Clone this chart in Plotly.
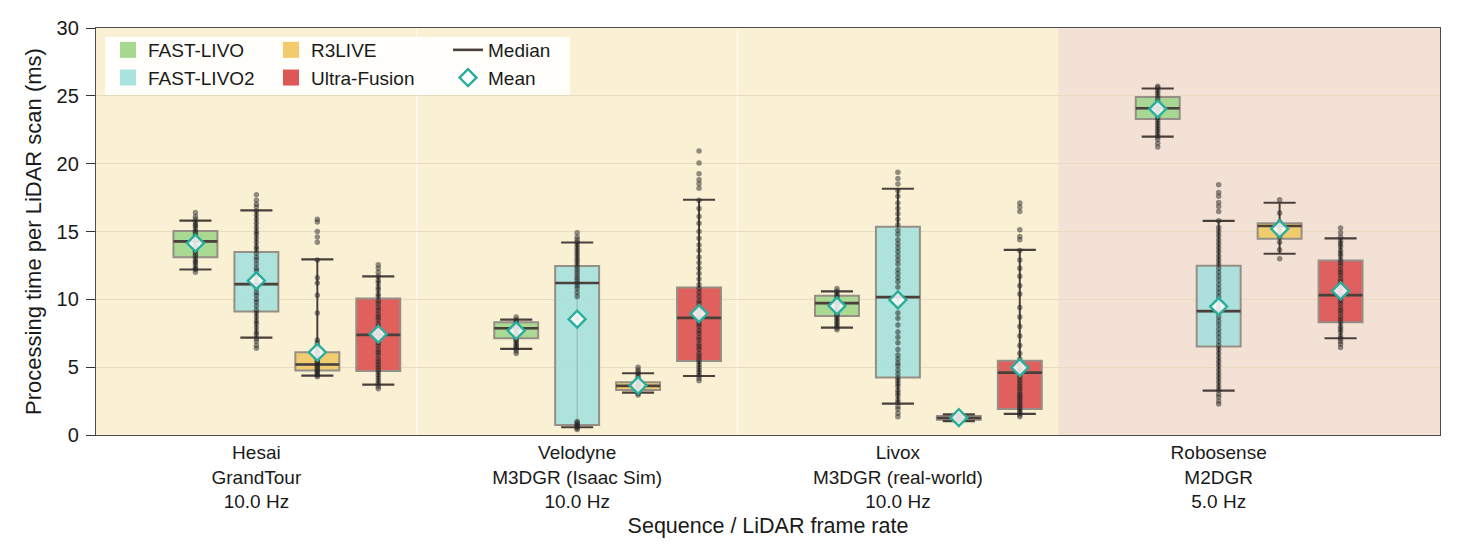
import plotly.graph_objects as go

# ---------------- data ----------------
SENSORS = ["Hesai", "Velodyne", "Livox", "Robosense"]
DATASETS = ["GrandTour", "M3DGR (Isaac Sim)", "M3DGR (real-world)", "M2DGR"]
RATES_HZ = [10.0, 10.0, 10.0, 5.0]
METHODS = ["FAST-LIVO", "FAST-LIVO2", "R3LIVE", "Ultra-Fusion"]

# rows = methods, columns = sequences (Hesai, Velodyne, Livox, Robosense)
Q1 = [[13.1, 7.13, 8.78, 23.3],
      [9.1, 0.74, 4.23, 6.52],
      [4.75, 3.32, 1.13, 14.46],
      [4.72, 5.46, 1.92, 8.32]]
MEDIAN = [[14.27, 7.87, 9.72, 24.08],
          [11.12, 11.2, 10.16, 9.13],
          [5.2, 3.62, 1.25, 15.4],
          [7.38, 8.63, 4.6, 10.31]]
Q3 = [[15.03, 8.32, 10.26, 24.92],
      [13.48, 12.45, 15.35, 12.47],
      [6.1, 3.89, 1.4, 15.6],
      [10.06, 10.87, 5.48, 12.86]]
WHISK_LO = [[12.2, 6.35, 7.92, 21.99],
            [7.18, 0.57, 2.31, 3.27],
            [4.38, 3.12, 1.02, 13.36],
            [3.72, 4.35, 1.55, 7.13]]
WHISK_HI = [[15.8, 8.51, 10.58, 25.54],
            [16.55, 14.19, 18.15, 15.79],
            [12.94, 4.55, 1.52, 17.12],
            [11.69, 17.34, 13.65, 14.49]]
MEAN = [[14.15, 7.7, 9.52, 24.04],
        [11.37, 8.54, 9.96, 9.47],
        [6.1, 3.66, 1.28, 15.2],
        [7.43, 8.95, 4.97, 10.63]]

# per-scan samples
HESAI_FAST_LIVO = [12.0, 12.2, 12.3, 12.5, 12.7, 12.8, 13.0, 13.2, 13.3, 13.5, 13.6, 13.8, 13.9, 14.0,
                   14.2, 14.3, 14.4, 14.6, 14.7, 14.9, 15.0, 15.2, 15.4, 15.5, 15.7, 15.9, 16.1, 16.4]
HESAI_FAST_LIVO2 = [6.4, 6.6, 6.9, 7.1, 7.4, 7.6, 7.9, 8.2, 8.4, 8.7, 9.0, 9.2, 9.5, 9.8, 10.0, 10.3,
                    10.5, 10.8, 11.0, 11.3, 11.5, 11.8, 12.1, 12.3, 12.6, 12.9, 13.1, 13.4, 13.7, 13.9,
                    14.2, 14.5, 14.8, 15.0, 15.3, 15.6, 15.9, 16.2, 16.5, 16.8, 17.0, 17.3, 17.7]
HESAI_R3LIVE = [4.3, 4.4, 4.5, 4.6, 4.7, 4.8, 4.9, 5.0, 5.1, 5.2, 5.3, 5.4, 5.5, 5.6, 5.7, 5.9, 6.0,
                6.2, 6.4, 6.6, 6.8, 7.0, 9.0, 10.3, 11.2, 11.6, 12.9, 14.2, 14.6, 15.0, 15.7, 15.9]
HESAI_ULTRA = [3.4, 3.6, 3.8, 4.0, 4.2, 4.4, 4.6, 4.8, 5.0, 5.2, 5.4, 5.6, 5.9, 6.1, 6.3, 6.6, 6.8,
               7.0, 7.3, 7.5, 7.7, 8.0, 8.2, 8.5, 8.7, 8.9, 9.2, 9.4, 9.7, 9.9, 10.2, 10.4, 10.7,
               10.9, 11.2, 11.4, 11.7, 12.0, 12.3, 12.55]

VELO_FAST_LIVO = [6.0, 6.2, 6.35, 6.5, 6.6, 6.75, 6.9, 7.0, 7.1, 7.25, 7.4, 7.5, 7.6, 7.75, 7.9, 8.0,
                  8.1, 8.2, 8.35, 8.5, 8.7]
VELO_FAST_LIVO2 = [0.4, 0.5, 0.6, 0.7, 0.8, 0.9, 1.0, 8.6, 10.2, 10.5, 10.8, 11.0, 11.2, 11.4, 11.6,
                   11.8, 12.0, 12.2, 12.4, 12.6, 12.8, 13.0, 13.2, 13.4, 13.6, 13.8, 14.0, 14.2,
                   14.4, 14.6, 14.9]
VELO_R3LIVE = [2.95, 3.05, 3.15, 3.25, 3.35, 3.45, 3.55, 3.65, 3.75, 3.85, 3.95, 4.05, 4.2, 4.35,
               4.5, 4.65, 4.8, 5.0]
VELO_ULTRA = [4.0, 4.2, 4.4, 4.6, 4.8, 5.0, 5.2, 5.4, 5.6, 5.8, 6.0, 6.3, 6.5, 6.7, 7.0, 7.2, 7.5,
              7.7, 8.0, 8.2, 8.4, 8.7, 8.9, 9.2, 9.4, 9.7, 9.9, 10.2, 10.5, 10.8, 11.1, 11.5, 11.9,
              12.3, 12.7, 13.1, 13.6, 14.0, 14.5, 15.0, 15.6, 16.1, 16.7, 17.3, 18.18, 18.52,
              18.82, 19.26, 20.05, 20.94]

LIVOX_FAST_LIVO = [7.75, 7.9, 8.05, 8.2, 8.35, 8.5, 8.65, 8.8, 8.95, 9.1, 9.25, 9.4, 9.55, 9.7, 9.85,
                   10.0, 10.15, 10.3, 10.45, 10.6, 10.8]
LIVOX_FAST_LIVO2 = [1.35, 1.6, 1.9, 2.1, 2.4, 2.6, 2.9, 3.1, 3.3, 3.6, 3.8, 4.0, 4.2, 4.5, 4.8, 5.1,
                    5.3, 5.6, 5.9, 6.3, 6.8, 7.2, 7.6, 8.1, 8.6, 9.0, 9.5, 10.0, 10.4, 10.9, 11.3,
                    11.6, 11.9, 12.2, 12.6, 12.9, 13.2, 13.5, 13.8, 14.1, 14.4, 14.8, 15.1, 15.5,
                    15.9, 16.3, 16.7, 17.1, 17.6, 18.0, 18.5, 18.9, 19.36]
LIVOX_R3LIVE = [1.05, 1.1, 1.15, 1.2, 1.25, 1.3, 1.35, 1.4, 1.45, 1.5]
LIVOX_ULTRA = [1.35, 1.5, 1.6, 1.75, 1.9, 2.0, 2.15, 2.3, 2.45, 2.6, 2.75, 2.9, 3.0, 3.2, 3.4, 3.6,
               3.8, 4.0, 4.2, 4.4, 4.6, 4.8, 5.0, 5.3, 5.6, 6.0, 6.6, 7.3, 8.0, 8.7, 9.4, 10.4,
               11.0, 11.7, 12.3, 12.9, 13.6, 14.39, 14.64, 15.13, 16.48, 16.8, 17.1]

ROBO_FAST_LIVO = [21.23, 21.5, 21.8, 22.0, 22.2, 22.4, 22.6, 22.8, 23.0, 23.2, 23.4, 23.6, 23.8, 24.0,
                  24.2, 24.4, 24.6, 24.8, 25.0, 25.2, 25.4, 25.6, 25.7]
ROBO_FAST_LIVO2 = [2.29, 2.5, 2.8, 3.0, 3.3, 3.6, 3.9, 4.2, 4.5, 4.8, 5.1, 5.4, 5.7, 6.0, 6.3, 6.6,
                   6.9, 7.2, 7.5, 7.8, 8.1, 8.4, 8.7, 9.0, 9.3, 9.6, 9.9, 10.2, 10.5, 10.8, 11.1,
                   11.4, 11.7, 12.0, 12.3, 12.6, 12.9, 13.2, 13.5, 13.8, 14.1, 14.4, 14.7, 15.0,
                   15.3, 15.8, 16.48, 16.85, 17.14, 17.59, 17.88, 18.45]
ROBO_R3LIVE = [12.99, 13.65, 14.2, 14.6, 14.8, 15.0, 15.2, 15.35, 15.5, 15.7, 16.36, 17.34]
ROBO_ULTRA = [6.45, 6.7, 6.9, 7.1, 7.3, 7.6, 7.8, 8.0, 8.3, 8.5, 8.7, 9.0, 9.2, 9.4, 9.7, 9.9, 10.1,
              10.4, 10.6, 10.8, 11.1, 11.3, 11.5, 11.8, 12.0, 12.2, 12.5, 12.7, 12.9, 13.2, 13.4,
              13.6, 13.9, 14.1, 14.3, 14.6, 14.9, 15.25]

SAMPLES = [
    [HESAI_FAST_LIVO, VELO_FAST_LIVO, LIVOX_FAST_LIVO, ROBO_FAST_LIVO],
    [HESAI_FAST_LIVO2, VELO_FAST_LIVO2, LIVOX_FAST_LIVO2, ROBO_FAST_LIVO2],
    [HESAI_R3LIVE, VELO_R3LIVE, LIVOX_R3LIVE, ROBO_R3LIVE],
    [HESAI_ULTRA, VELO_ULTRA, LIVOX_ULTRA, ROBO_ULTRA],
]

# ---------------- style ----------------
FONT = "Liberation Sans, Arial, sans-serif"
FILLS = ["rgba(160,214,140,0.9)", "rgba(165,224,222,0.9)", "rgba(240,202,105,0.95)", "rgba(221,84,84,0.92)"]
PATCH = ["#a6d98f", "#a9e3e0", "#f1cb6c", "#de5757"]
BOX_EDGE = "#958f86"
DARK = "#4a403b"
TEAL = "#2aae9c"
OFFSETS = [-0.19, 0.0, 0.19, 0.38]
BOX_W = 0.137
CAP_W = 0.10
X_RANGE = [-0.5, 3.69]

n_groups = len(SENSORS)
ticktext = [f"{s}<br>{d}<br>{r:.1f} Hz" for s, d, r in zip(SENSORS, DATASETS, RATES_HZ)]

fig = go.Figure()

# boxes
for m, name in enumerate(METHODS):
    xs = [g + OFFSETS[m] for g in range(n_groups)]
    fig.add_trace(go.Box(
        x=xs, q1=Q1[m], median=MEDIAN[m], q3=Q3[m],
        lowerfence=Q1[m], upperfence=Q3[m],
        width=BOX_W, whiskerwidth=0, boxpoints=False,
        fillcolor=FILLS[m], line=dict(color=BOX_EDGE, width=2),
        name=name, showlegend=False, hoverinfo="skip",
    ))

# whiskers, caps, medians, faint inner line
wx, wy, cx, cy, mx, my, ix, iy = [], [], [], [], [], [], [], []
for m in range(len(METHODS)):
    for g in range(n_groups):
        p = g + OFFSETS[m]
        wx += [p, p, None, p, p, None]
        wy += [WHISK_LO[m][g], Q1[m][g], None, Q3[m][g], WHISK_HI[m][g], None]
        cx += [p - CAP_W / 2, p + CAP_W / 2, None, p - CAP_W / 2, p + CAP_W / 2, None]
        cy += [WHISK_LO[m][g], WHISK_LO[m][g], None, WHISK_HI[m][g], WHISK_HI[m][g], None]
        mx += [p - BOX_W / 2, p + BOX_W / 2, None]
        my += [MEDIAN[m][g], MEDIAN[m][g], None]
        ix += [p, p, None]
        iy += [Q1[m][g], Q3[m][g], None]

fig.add_trace(go.Scatter(x=ix, y=iy, mode="lines", line=dict(color="rgba(74,64,59,0.22)", width=1.2),
                         showlegend=False, hoverinfo="skip"))
fig.add_trace(go.Scatter(x=wx, y=wy, mode="lines", line=dict(color=DARK, width=2),
                         showlegend=False, hoverinfo="skip"))
fig.add_trace(go.Scatter(x=cx, y=cy, mode="lines", line=dict(color=DARK, width=2.2),
                         showlegend=False, hoverinfo="skip"))
fig.add_trace(go.Scatter(x=mx, y=my, mode="lines", line=dict(color=DARK, width=2.6),
                         name="Median", legend="legend3", hoverinfo="skip"))

# samples
px, py = [], []
for m in range(len(METHODS)):
    for g in range(n_groups):
        vals = SAMPLES[m][g]
        px += [g + OFFSETS[m]] * len(vals)
        py += vals
fig.add_trace(go.Scatter(x=px, y=py, mode="markers",
                         marker=dict(color="rgba(38,38,38,0.5)", size=5.5, line=dict(width=0)),
                         showlegend=False, hoverinfo="skip"))

# means
mnx, mny = [], []
for m in range(len(METHODS)):
    for g in range(n_groups):
        mnx.append(g + OFFSETS[m])
        mny.append(MEAN[m][g])
fig.add_trace(go.Scatter(x=mnx, y=mny, mode="markers", name="Mean", legend="legend3",
                         marker=dict(symbol="diamond", size=13, color="rgba(255,255,255,0.85)",
                                     line=dict(color=TEAL, width=2.4)),
                         hoverinfo="skip"))

# legend patches for the methods (filled rectangles, no data)
for m, name in enumerate(METHODS):
    fig.add_trace(go.Scatter(x=[None], y=[None], mode="markers", name=name,
                             legend="legend" if m < 2 else "legend2",
                             marker=dict(symbol="square", size=16, color=PATCH[m], line=dict(width=0))))

# background regions and separators
shapes = [
    dict(type="rect", xref="x", yref="paper", x0=X_RANGE[0], x1=2.5, y0=0, y1=1,
         fillcolor="#faf0d4", line=dict(width=0), layer="below"),
    dict(type="rect", xref="x", yref="paper", x0=2.5, x1=X_RANGE[1], y0=0, y1=1,
         fillcolor="#f3e1d5", line=dict(width=0), layer="below"),
]
for s in [0.5, 1.5]:
    shapes.append(dict(type="line", xref="x", yref="paper", x0=s, x1=s, y0=0, y1=1,
                       line=dict(color="#fffaf0", width=1.5), layer="below"))
# legend background
PW, PH, L, T = 1344.0, 407.0, 96.0, 28.0
def fx(px_):
    return (px_ - L) / PW
def fy(py_):
    return (T + PH - py_) / PH
shapes.append(dict(type="rect", xref="paper", yref="paper", x0=fx(105), x1=fx(570), y0=fy(95), y1=fy(37),
                   fillcolor="rgba(255,255,255,0.9)", line=dict(width=0), layer="above"))

leg_common = dict(xanchor="left", yanchor="top", bgcolor="rgba(0,0,0,0)", borderwidth=0,
                  font=dict(family=FONT, size=19, color="#1a1a1a"), orientation="v",
                  tracegroupgap=0, itemwidth=30)

fig.update_layout(
    width=1461, height=558,
    margin=dict(l=96, r=21, t=28, b=123),
    paper_bgcolor="white", plot_bgcolor="#faf0d4",
    font=dict(family=FONT, size=19, color="#1a1a1a"),
    shapes=shapes,
    legend=dict(x=fx(108), y=fy(31), **leg_common),
    legend2=dict(x=fx(271), y=fy(31), **leg_common),
    legend3=dict(x=fx(448), y=fy(31), **leg_common),
    showlegend=True,
    boxmode="overlay",
)
fig.update_xaxes(range=X_RANGE, tickmode="array", tickvals=list(range(n_groups)), ticktext=ticktext,
                 showgrid=False, zeroline=False, ticks="", showline=True, mirror=True,
                 linecolor="#4d4d4d", linewidth=1.3, tickfont=dict(size=19),
                 title=dict(text="Sequence / LiDAR frame rate", font=dict(size=21.5), standoff=6))
fig.update_yaxes(range=[0, 30], dtick=5, ticks="outside", ticklen=9, tickwidth=1.3, tickcolor="#333333",
                 ticklabelstandoff=3,
                 showgrid=True, gridcolor="#e8dcc0", gridwidth=1.2, zeroline=False,
                 showline=True, mirror=True, linecolor="#4d4d4d", linewidth=1.3,
                 tickfont=dict(size=20),
                 title=dict(text="Processing time per LiDAR scan (ms)", font=dict(size=22), standoff=8))

fig.write_html("out.html")
